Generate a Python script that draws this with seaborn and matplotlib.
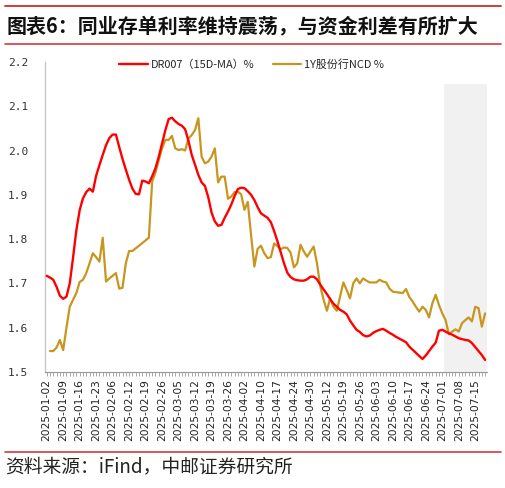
import numpy as np
import pandas as pd
import matplotlib
matplotlib.use("Agg")
import matplotlib.pyplot as plt
from matplotlib.lines import Line2D
import seaborn as sns

# ---------------- data ----------------
holidays = ["2025-01-01", "2025-01-28", "2025-01-29", "2025-01-30", "2025-01-31",
            "2025-02-03", "2025-02-04", "2025-04-04", "2025-05-01", "2025-05-02",
            "2025-05-05", "2025-06-02"]
makeup_days = ["2025-01-26", "2025-02-08", "2025-04-27"]
trade_days = pd.bdate_range("2025-01-02", "2025-07-18", freq="C", holidays=holidays)
trade_days = trade_days.union(pd.DatetimeIndex(makeup_days)).sort_values()
date_labels = [d.strftime("%Y-%m-%d") for d in trade_days]

dr007_ma = [
    1.717, 1.713, 1.708, 1.692, 1.672, 1.665, 1.670, 1.700, 1.758, 1.820,
    1.865, 1.892, 1.906, 1.914, 1.907, 1.943, 1.967, 1.990, 2.012, 2.028,
    2.036, 2.036, 2.008, 1.981, 1.957, 1.934, 1.914, 1.902, 1.901, 1.932,
    1.930, 1.926, 1.942, 1.960, 1.986, 2.016, 2.046, 2.071, 2.074, 2.066,
    2.060, 2.056, 2.048, 2.022, 1.990, 1.968, 1.945, 1.928, 1.920, 1.895,
    1.860, 1.840, 1.830, 1.832, 1.848, 1.862, 1.878, 1.897, 1.913, 1.916,
    1.915, 1.908, 1.900, 1.888, 1.872, 1.858, 1.853, 1.848, 1.838, 1.818,
    1.795, 1.770, 1.745, 1.724, 1.714, 1.709, 1.707, 1.706, 1.706, 1.709,
    1.715, 1.715, 1.709, 1.697, 1.686, 1.676, 1.664, 1.654, 1.647, 1.640,
    1.636, 1.630, 1.616, 1.605, 1.595, 1.590, 1.583, 1.580, 1.582, 1.588,
    1.592, 1.595, 1.597, 1.593, 1.588, 1.584, 1.579, 1.575, 1.571, 1.567,
    1.557, 1.550, 1.543, 1.536, 1.529, 1.537, 1.547, 1.557, 1.566, 1.593,
    1.595, 1.591, 1.587, 1.584, 1.580, 1.576, 1.574, 1.572, 1.571, 1.565,
    1.556, 1.547, 1.538, 1.527,
]

ncd_1y = [
    np.nan, 1.547, 1.547, 1.555, 1.572, 1.549, 1.600, 1.647, 1.663, 1.678,
    1.703, 1.708, 1.723, 1.745, 1.768, 1.759, 1.749, 1.803, 1.704, 1.711,
    1.717, 1.723, 1.688, 1.690, 1.745, 1.773, 1.773, 1.779, 1.785, 1.791,
    1.797, 1.803, 1.930, 1.950, 1.978, 2.005, 2.024, 2.024, 2.033, 2.005,
    2.001, 2.003, 2.000, 2.027, 2.035, 2.046, 2.073, 1.986, 1.971, 1.975,
    1.986, 2.005, 1.928, 1.941, 1.941, 1.891, 1.896, 1.906, 1.907, 1.901,
    1.866, 1.884, 1.809, 1.738, 1.778, 1.785, 1.768, 1.757, 1.759, 1.790,
    1.784, 1.777, 1.781, 1.780, 1.769, 1.736, 1.745, 1.787, 1.772, 1.760,
    1.772, 1.783, 1.745, 1.693, 1.663, 1.638, 1.666, 1.647, 1.638, 1.670,
    1.702, 1.685, 1.666, 1.700, 1.711, 1.700, 1.711, 1.706, 1.702, 1.702,
    1.702, 1.708, 1.704, 1.702, 1.688, 1.681, 1.680, 1.679, 1.678, 1.687,
    1.669, 1.659, 1.647, 1.636, 1.647, 1.640, 1.623, 1.655, 1.674, 1.651,
    1.632, 1.617, 1.585, 1.591, 1.596, 1.591, 1.610, 1.617, 1.623, 1.614,
    1.647, 1.644, 1.602, 1.632,
]

shade_start = "2025-07-02"
shade_level = 2.15

series_names = ["DR007（15D-MA）%", "1Y股份行NCD %"]
title_text = "图表6：同业存单利率维持震荡，与资金利差有所扩大"
source_text = "资料来源：iFind，中邮证券研究所"

# ---------------- frame ----------------
n = len(date_labels)
df = pd.DataFrame({"pos": np.arange(n), "date": date_labels,
                   "dr": dr007_ma, "ncd": ncd_1y})
shade_df = df[df["date"] >= shade_start]

sns.set_theme(style="white")
plt.rcParams["font.family"] = ["Noto Sans CJK SC", "DejaVu Sans"]

RED = "#FF0000"
GOLD = "#C8961E"
BAR_RED = "#D23B3B"

fig = plt.figure(figsize=(5.06, 4.88), dpi=100)
ax = fig.add_axes([0.089, 0.238, 0.873, 0.635])

ax.bar(shade_df["pos"], shade_level - 1.5, bottom=1.5, width=1.0,
       color="#F1F1F1", linewidth=0, zorder=0)

sns.lineplot(data=df, x="pos", y="dr", color=RED, linewidth=1.7, ax=ax,
             zorder=3, legend=False)
sns.lineplot(data=df, x="pos", y="ncd", color=GOLD, linewidth=1.6, ax=ax,
             zorder=2, legend=False)

ax.set_xlim(-0.5, n - 0.5)
ax.set_ylim(1.5, 2.2)
ax.set_xlabel("")
ax.set_ylabel("")

yt = np.round(np.arange(1.5, 2.21, 0.1), 1)
ax.set_yticks(yt)
ax.set_yticklabels([f"{v:.1f}" for v in yt], family="DejaVu Sans Mono",
                   fontsize=8, color="#333333")
ax.tick_params(axis="y", length=0, pad=12)

major = list(range(0, n, 5))
ax.set_xticks(major)
ax.set_xticklabels([date_labels[i] for i in major], rotation=90,
                   family="DejaVu Sans", fontsize=7.7, color="#222222")
ax.set_xticks(range(n), minor=True)
ax.tick_params(axis="x", which="both", direction="out", length=3,
               width=0.6, color="#999999", pad=2, bottom=True)

for s in ["top", "right"]:
    ax.spines[s].set_visible(False)
ax.spines["left"].set_color("#C8C8C8")
ax.spines["bottom"].set_color("#999999")
ax.spines["left"].set_linewidth(1.0)
ax.spines["bottom"].set_linewidth(0.8)
ax.grid(False)

handles = [Line2D([], [], color=RED, lw=1.7), Line2D([], [], color=GOLD, lw=1.6)]
fig.legend(handles, series_names, loc="center", bbox_to_anchor=(0.497, 0.867),
           ncol=2, frameon=False, handlelength=2.6,
           handletextpad=0.25, columnspacing=1.7,
           prop={"family": ["Noto Sans CJK SC", "DejaVu Sans"], "size": 7.9})

# header / footer
fig.add_artist(Line2D([0.01, 0.99], [1 - 5.5 / 488] * 2, color=BAR_RED, lw=1.4,
                      transform=fig.transFigure))
fig.add_artist(Line2D([0.01, 0.99], [1 - 43.5 / 488] * 2, color=BAR_RED, lw=1.2,
                      transform=fig.transFigure))
fig.add_artist(Line2D([0.01, 0.99], [1 - 451.5 / 488] * 2, color=BAR_RED, lw=1.2,
                      transform=fig.transFigure))
fig.text(7 / 506, 1 - 25.5 / 488, title_text, fontsize=14.4, fontweight="bold",
         color="#111111", va="center", ha="left",
         family=["Noto Sans CJK SC", "DejaVu Sans"])
fig.text(5 / 506, 1 - 467 / 488, source_text, fontsize=13.5, color="#222222",
         va="center", ha="left", family=["Noto Sans CJK SC", "DejaVu Sans"])

fig.savefig("out.png", dpi=100)
